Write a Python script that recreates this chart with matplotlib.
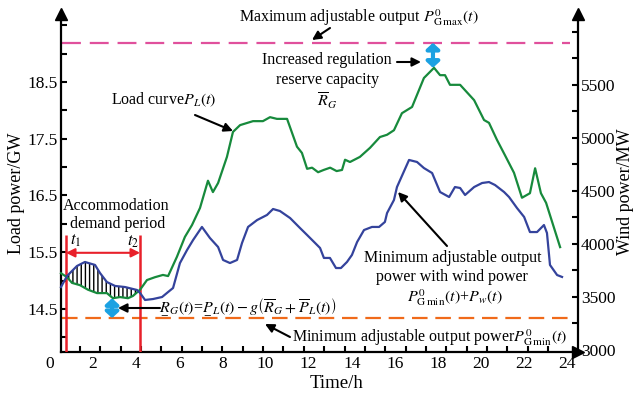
import numpy as np
import matplotlib
matplotlib.use('Agg')
import matplotlib.pyplot as plt
from matplotlib.ticker import FixedLocator

plt.rcParams['font.family'] = ['Liberation Serif', 'DejaVu Serif']
plt.rcParams['mathtext.fontset'] = 'stix'
plt.rcParams['hatch.linewidth'] = 1.0

# load curve P_L(t), GW
load_t = [0.51, 0.79, 1.02, 1.39, 1.76, 2.18, 2.64, 2.92, 3.25, 3.62, 3.85, 4.18, 4.50,
          4.87, 5.24, 5.48, 5.89, 6.26, 6.59, 6.96, 7.33, 7.56, 7.80, 8.21, 8.49, 8.82,
          9.42, 9.88, 10.21, 10.53, 11.00, 11.46, 11.69, 11.93, 12.16, 12.44, 12.70,
          13.00, 13.30, 13.55, 13.69, 13.92, 14.38, 14.85, 15.31, 15.64, 15.96, 16.33,
          16.80, 17.35, 17.82, 18.10, 18.33, 18.56, 19.03, 19.68, 20.14, 20.37, 20.74,
          21.11, 21.53, 21.90, 22.27, 22.51, 22.78, 23.02, 23.67]
load_gw = [15.13, 15.06, 14.96, 14.92, 14.84, 14.78, 14.78, 14.69, 14.71, 14.69, 14.73,
           14.84, 15.01, 15.06, 15.10, 15.08, 15.42, 15.77, 15.98, 16.28, 16.76, 16.56,
           16.72, 17.18, 17.62, 17.74, 17.81, 17.81, 17.88, 17.85, 17.85, 17.36, 17.25,
           16.97, 16.99, 16.91, 16.95, 16.99, 16.93, 16.95, 17.13, 17.09, 17.18, 17.34,
           17.53, 17.57, 17.65, 17.95, 18.06, 18.57, 18.75, 18.62, 18.62, 18.45, 18.45,
           18.18, 17.83, 17.78, 17.48, 17.21, 16.90, 16.46, 16.54, 16.98, 16.54, 16.37,
           15.59]

# minimum adjustable output plus wind power, MW
wind_t = [0.51, 0.79, 1.25, 1.62, 2.09, 2.32, 2.64, 3.02, 3.48, 4.04, 4.18, 4.41, 4.78,
          5.20, 5.48, 5.71, 6.03, 6.36, 6.64, 7.05, 7.42, 7.80, 8.03, 8.35, 8.68, 8.91,
          9.19, 9.61, 10.07, 10.35, 10.67, 11.14, 11.60, 11.93, 12.30, 12.53, 12.71,
          12.99, 13.27, 13.50, 13.78, 14.01, 14.25, 14.57, 14.94, 15.27, 15.54, 15.64,
          15.96, 16.10, 16.66, 17.03, 17.35, 17.73, 18.10, 18.52, 18.79, 19.03, 19.26,
          19.68, 20.05, 20.37, 20.65, 21.07, 21.30, 21.67, 22.00, 22.27, 22.60, 22.92,
          23.06, 23.20, 23.53, 23.76]
wind_mw = [3593, 3697, 3791, 3829, 3801, 3725, 3640, 3603, 3593, 3565, 3537, 3471, 3480,
           3499, 3546, 3584, 3819, 3942, 4036, 4159, 4055, 3970, 3848, 3819, 3848, 4008,
           4159, 4224, 4272, 4328, 4309, 4243, 4149, 4083, 4008, 3961, 3867, 3867, 3772,
           3772, 3829, 3895, 4017, 4130, 4159, 4159, 4206, 4290, 4413, 4535, 4790, 4771,
           4714, 4667, 4488, 4441, 4535, 4526, 4460, 4535, 4573, 4582, 4554, 4488, 4441,
           4337, 4253, 4111, 4111, 4177, 4102, 3801, 3706, 3688]

p_gmax = 19.19      # maximum adjustable output, GW
p_gmin = 14.34      # minimum adjustable output, GW
t1, t2 = 0.74, 4.18  # accommodation demand period
peak_t, peak_gw = 17.77, 18.75
low_t, low_gw = 2.88, 14.69

x_ticks = list(range(0, 25, 2))
left_ticks = [14.5, 15.5, 16.5, 17.5, 18.5]
right_ticks = [3000, 3500, 4000, 4500, 5000, 5500]

GREEN = '#178a3c'
BLUE = '#34439c'
RED = '#e8202a'
MAGENTA = '#e0509c'
ORANGE = '#f06a1a'
CYAN = '#1ba1e2'

W, H = 634, 396
fig = plt.figure(figsize=(W / 100, H / 100), dpi=100)
ax = fig.add_axes([50 / W, 44 / H, 528 / W, 338 / H])
ax2 = ax.twinx()

ax.set_xlim(0, 24.5)
ax.set_ylim(13.742, 19.698)
ax2.set_ylim(2981, 6165)

# axes frame: left spine sits at t=0.5, arrows on the open ends
ax.spines['top'].set_visible(False)
ax.spines['right'].set_visible(False)
ax.spines['left'].set_position(('data', 0.5))
ax.spines['bottom'].set_bounds(0.5, 24.5)
for s in ['top', 'left', 'bottom']:
    ax2.spines[s].set_visible(False)
for sp in [ax.spines['left'], ax.spines['bottom'], ax2.spines['right']]:
    sp.set_linewidth(1.6)
ax.plot([0.5], [1], marker='^', ms=8, color='k', transform=ax.get_xaxis_transform(), clip_on=False)
ax.plot([1], [1], marker='^', ms=8, color='k', transform=ax.transAxes, clip_on=False)
ax.plot([1], [0], marker='>', ms=8, color='k', transform=ax.transAxes, clip_on=False)

ax.xaxis.set_major_locator(FixedLocator(x_ticks))
ax.xaxis.set_minor_locator(FixedLocator(np.linspace(1.39, 23.11, 24)))
ax.tick_params(axis='x', which='major', length=0, labelsize=12.5, pad=3)
ax.tick_params(axis='x', which='minor', direction='in', length=4, width=1.5)

ax.set_yticks(left_ticks)
ax.set_yticklabels([f'{v:.1f}' for v in left_ticks])
ax.yaxis.set_minor_locator(FixedLocator(np.arange(14.0, 19.6, 0.5)))
ax.tick_params(axis='y', which='both', direction='in', length=4, width=1.5, labelsize=12.5, pad=2)

ax2.set_yticks(right_ticks)
ax2.yaxis.set_minor_locator(FixedLocator(np.arange(3250, 6001, 250)))
ax2.tick_params(axis='y', which='both', direction='in', length=4, width=1.5, labelsize=12.5, pad=2)

# reference output limits
ax.hlines(p_gmax, 0.55, 24.13, color=MAGENTA, lw=1.6, linestyles=(0, (8.5, 4)))
ax.hlines(p_gmin, 0.55, 24.13, color=ORANGE, lw=1.6, linestyles=(0, (7, 3.5)))

# curves
ax.plot(load_t, load_gw, color=GREEN, lw=1.6, zorder=4)
ax2.plot(wind_t, wind_mw, color=BLUE, lw=1.6, zorder=4)

# hatched gap inside the accommodation period
grid = np.linspace(t1, t2, 300)
g = np.interp(grid, load_t, load_gw)
b_mw = np.interp(grid, wind_t, wind_mw)
disp = ax2.transData.transform(np.column_stack([grid, b_mw]))
b = ax.transData.inverted().transform(disp)[:, 1]
ax.fill_between(grid, g, b, where=b > g, interpolate=True, facecolor='none',
                edgecolor='k', hatch='||||', lw=0, zorder=2)

# accommodation period markers
ax.vlines([t1, t2], 13.742, 15.80, color=RED, lw=1.8, zorder=3)
ax.annotate('', xy=(t1, 15.49), xytext=(t2, 15.49),
            arrowprops=dict(arrowstyle='<|-|>', color=RED, lw=1.5, shrinkA=0, shrinkB=0,
                            mutation_scale=13))

# regulation margins
cyan_style = dict(arrowstyle='<|-|>,head_length=0.5,head_width=0.55', color=CYAN, lw=3,
                  shrinkA=0, shrinkB=0, mutation_scale=7)
ax.annotate('', xy=(peak_t, p_gmax), xytext=(peak_t, peak_gw), arrowprops=cyan_style)
ax.annotate('', xy=(low_t, low_gw), xytext=(low_t, p_gmin), arrowprops=cyan_style)


def label(x, y, s, size=11.5, **kw):
    fig.text(x / W, 1 - y / H, s, fontsize=size, ha=kw.pop('ha', 'center'), va='center', **kw)


def pointer(x0, y0, x1, y1):
    ax.annotate('', xy=(x1, H - y1), xycoords='figure pixels',
                xytext=(x0, H - y0), textcoords='figure pixels',
                arrowprops=dict(arrowstyle='-|>', color='k', lw=1.5, shrinkA=0, shrinkB=0,
                                mutation_scale=13))


label(359, 18, r'Maximum adjustable output $P^{0}_{\mathrm{G\,max}}(t)$')
pointer(330, 28, 312, 40)

label(327, 60, 'Increased regulation')
label(327, 80, 'reserve capacity')
label(327, 101, r'$\overline{R}_{G}$')
pointer(397, 62, 421, 62)

label(164, 100, r'Load curve$P_L(t)$')
pointer(195, 115, 233, 131)

label(116, 206, 'Accommodation')
label(118, 224, 'demand period')
label(76, 241, r'$t_1$', size=12)
label(133, 242, r'$t_2$', size=12)

label(248, 307, r'$\underset{-}{R}_G(t)$=$\underset{-}{P}_L(t)-g\left(\overline{R}_G+\overline{P}_L(t)\right)$')
pointer(160, 308, 118, 308)

label(292, 338, r'Minimum adjustable output power$P^{0}_{\mathrm{G\,min}}(t)$', ha='left')
pointer(290, 337, 265, 324)

label(453, 258, 'Minimum adjustable output')
label(452, 277, 'power with wind power')
label(455, 298, r'$P^{0}_{\mathrm{G\,min}}(t)$+$P_w(t)$')
pointer(447, 246, 398, 192)

label(17, 193, 'Load power/GW', size=13, rotation=90)
label(625, 192, 'Wind power/MW', size=13, rotation=90)
label(337, 383, 'Time/h', size=13.5)

fig.savefig('out.png', dpi=100)
